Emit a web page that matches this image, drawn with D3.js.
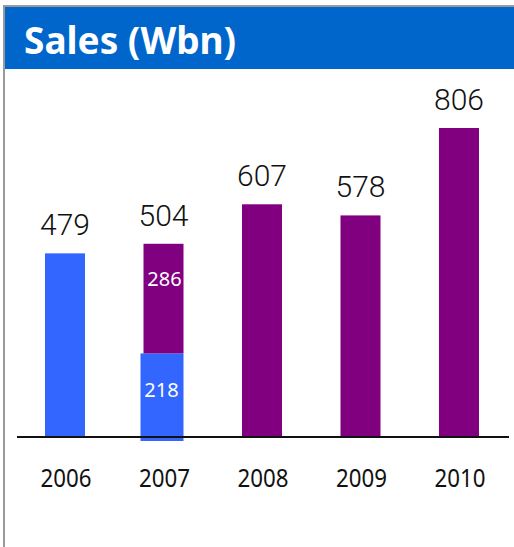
<!DOCTYPE html>
<html>
<head>
<meta charset="utf-8">
<script src="https://cdn.jsdelivr.net/npm/d3@7"></script>
<style>
  html, body { margin: 0; padding: 0; background: #fff; }
  svg { display: block; }
</style>
</head>
<body>
<script>
// ---- data ----
const title = "Sales (Wbn)";
const years = ["2006", "2007", "2008", "2009", "2010"];
const totals = [479, 504, 607, 578, 806];
// stacked segments for each year: [blue part, purple part]
const bluePart = [479, 218, 0, 0, 0];
const purplePart = [0, 286, 607, 578, 806];
// which segments get an inner label
const innerLabelYear = "2007";

// ---- styles ----
const W = 514, H = 547;
const BLUE = "#3366FF", PURPLE = "#800080", HEADER = "#0066CC";

const svg = d3.select("body").append("svg").attr("width", W).attr("height", H);

svg.append("rect").attr("width", W).attr("height", H).attr("fill", "#fff");

// frame
svg.append("rect").attr("x", 5).attr("y", 7).attr("width", W - 5).attr("height", 62).attr("fill", HEADER);
svg.append("rect").attr("x", 3).attr("y", 5).attr("width", W - 3).attr("height", 2).attr("fill", "#9a9a9a");
svg.append("rect").attr("x", 3).attr("y", 5).attr("width", 2).attr("height", H - 5).attr("fill", "#9a9a9a");

svg.append("text").attr("x", 24).attr("y", 54)
  .attr("font-family", "'Noto Sans', sans-serif").attr("font-weight", "bold")
  .attr("font-size", 37).attr("fill", "#fff").text(title);

// scales
const x = d3.scalePoint().domain(years).range([65, 459]);
const y = d3.scaleLinear().domain([0, 806]).range([437, 128]);
const bw = 40;

const rows = years.map((yr, i) => ({ year: yr, total: totals[i], blue: bluePart[i], purple: purplePart[i] }));

const g = svg.append("g");

// blue segments (bottom)
g.selectAll("rect.blue").data(rows.filter(d => d.blue > 0)).join("rect")
  .attr("class", "blue")
  .attr("x", d => x(d.year) - bw / 2 - (d.purple > 0 ? 3 : 0))
  .attr("width", d => bw + (d.purple > 0 ? 3 : 0))
  .attr("y", d => y(d.blue))
  .attr("height", d => y(0) - y(d.blue) + (d.purple > 0 ? 4 : 0))
  .attr("fill", BLUE);

// purple segments (stacked on top of blue)
g.selectAll("rect.purple").data(rows.filter(d => d.purple > 0)).join("rect")
  .attr("class", "purple")
  .attr("x", d => x(d.year) - bw / 2)
  .attr("width", bw)
  .attr("y", d => y(d.blue + d.purple))
  .attr("height", d => y(d.blue) - y(d.blue + d.purple))
  .attr("fill", PURPLE);

// baseline
svg.append("line").attr("x1", 17).attr("x2", 509).attr("y1", y(0)).attr("y2", y(0))
  .attr("stroke", "#111").attr("stroke-width", 2);

// total labels
g.selectAll("text.total").data(rows).join("text")
  .attr("class", "total")
  .attr("x", d => x(d.year))
  .attr("y", d => y(d.total) - 18)
  .attr("text-anchor", "middle")
  .attr("font-family", "Roboto, sans-serif").attr("font-weight", 300)
  .attr("font-size", 30).attr("fill", "#111")
  .text(d => d.total);

// inner labels for split bar
const split = rows.find(d => d.year === innerLabelYear);
g.append("text").attr("x", x(split.year) + 1).attr("y", y(split.total) + 42)
  .attr("text-anchor", "middle").attr("font-family", "'Noto Sans', sans-serif")
  .attr("font-size", 20).attr("fill", "#fff").text(split.purple);
g.append("text").attr("x", x(split.year) - 2).attr("y", y(0) - 40)
  .attr("text-anchor", "middle").attr("font-family", "'Noto Sans', sans-serif")
  .attr("font-size", 20).attr("fill", "#fff").text(split.blue);

// year axis labels
g.selectAll("text.year").data(years).join("text")
  .attr("class", "year")
  .attr("x", d => x(d) + 1)
  .attr("y", 487)
  .attr("text-anchor", "middle")
  .attr("font-family", "'Noto Sans', sans-serif")
  .attr("font-size", 25.5).attr("fill", "#111")
  .attr("textLength", 51).attr("lengthAdjust", "spacingAndGlyphs")
  .text(d => d);
</script>
</body>
</html>
